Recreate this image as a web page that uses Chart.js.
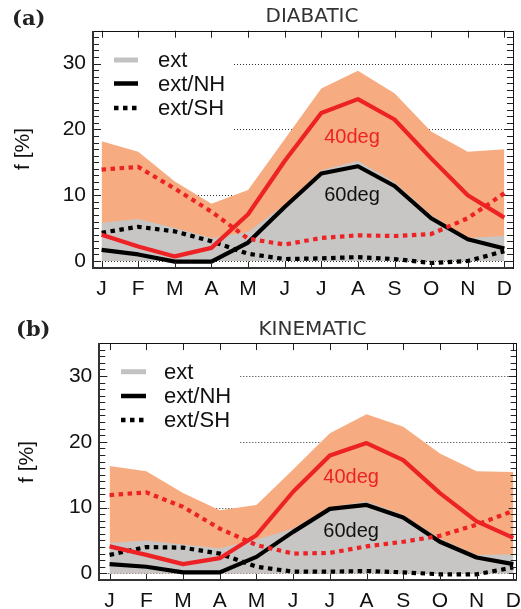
<!DOCTYPE html>
<html lang="en">
<head>
<meta charset="UTF-8">
<title>ext frequency - diabatic / kinematic</title>
<script src="https://cdn.jsdelivr.net/npm/chart.js"></script>
<style>
  html, body { margin: 0; padding: 0; background: #fff; overflow: hidden; }
  body { width: 521px; height: 609px; position: relative; }
  .panel { position: absolute; left: 0; }
  #panelA { top: 0; }
  #panelB { top: 310px; }
</style>
</head>
<body>
<div class="panel" id="panelA"><canvas id="chartA" width="521" height="300"></canvas></div>
<div class="panel" id="panelB"><canvas id="chartB" width="530" height="299"></canvas></div>
<script>
const months = ['J', 'F', 'M', 'A', 'M', 'J', 'J', 'A', 'S', 'O', 'N', 'D'];
const yTicks = [0, 10, 20, 30];
const legendLabels = ['ext', 'ext/NH', 'ext/SH'];

// (a) DIABATIC, f [%]
const diaExt40 = [18.2, 16.6, 12.1, 8.7, 10.8, 18.5, 26.2, 28.9, 25.5, 19.7, 16.6, 17.0];
const diaNH40  = [4.0, 2.2, 0.7, 2.0, 7.1, 15.2, 22.5, 24.6, 21.5, 15.6, 10.0, 6.6];
const diaSH40  = [13.9, 14.3, 11.0, 7.5, 3.4, 2.5, 3.5, 3.9, 3.8, 4.1, 6.5, 10.3];
const diaExt60 = [5.8, 6.4, 5.0, 3.5, 4.4, 8.6, 13.8, 15.2, 12.0, 7.0, 3.5, 3.8];
const diaNH60  = [1.7, 1.0, -0.1, -0.1, 2.8, 8.2, 13.3, 14.4, 11.4, 6.5, 3.3, 1.9];
const diaSH60  = [4.3, 5.2, 4.5, 3.0, 1.1, 0.3, 0.4, 0.6, 0.3, -0.3, 0.0, 1.5];

// (b) KINEMATIC, f [%]
const kinExt40 = [16.3, 15.5, 12.2, 9.6, 10.4, 15.8, 21.3, 24.2, 22.3, 18.2, 15.5, 15.4];
const kinNH40  = [4.1, 2.8, 1.4, 2.3, 5.8, 12.4, 17.9, 19.8, 17.2, 12.2, 7.9, 5.4];
const kinSH40  = [11.9, 12.3, 10.1, 6.8, 4.3, 3.0, 3.1, 4.1, 4.8, 5.7, 7.4, 9.5];
const kinExt60 = [4.6, 5.0, 4.4, 3.8, 5.1, 6.8, 10.1, 10.9, 8.9, 5.3, 2.8, 2.9];
const kinNH60  = [1.4, 1.0, 0.15, 0.15, 2.5, 6.3, 9.8, 10.4, 8.5, 4.8, 2.4, 1.4];
const kinSH60  = [2.8, 4.0, 3.9, 3.0, 1.0, 0.25, 0.25, 0.35, 0.15, -0.15, -0.15, 0.9];

const ORANGE = 'rgb(246,172,128)';
const GREY = 'rgb(199,198,197)';
const RED = 'rgb(237,34,36)';
const BLACK = '#000';
const SANS = '"Liberation Sans", Arial, sans-serif';

const pts = vals => vals.map((v, i) => ({ x: i, y: v }));

function bandSet(vals, color, order) {
  return {
    data: pts(vals), backgroundColor: color, borderColor: 'rgba(0,0,0,0)',
    borderWidth: 0, fill: 'origin', pointRadius: 0, order: order
  };
}

function curveSet(vals, color, dash, order) {
  return {
    data: pts(vals), borderColor: color, borderWidth: 4.2, borderDash: dash,
    borderCapStyle: 'butt', borderJoinStyle: 'round', fill: false,
    pointRadius: 0, order: order
  };
}

// frame, inward ticks, dotted grid, legend and labels
const decor = {
  id: 'decor',
  beforeDatasetsDraw(chart, args, o) {
    const { ctx, chartArea: a, scales: { y } } = chart;
    ctx.save();
    ctx.strokeStyle = '#333';
    ctx.lineWidth = 1;
    ctx.setLineDash([1, 2]);
    yTicks.forEach(v => {
      const py = Math.round(y.getPixelForValue(v)) + 0.5;
      ctx.beginPath();
      ctx.moveTo(a.left, py);
      ctx.lineTo(a.right, py);
      ctx.stroke();
    });
    ctx.setLineDash([]);
    ctx.fillStyle = '#fff';
    const b = o.legendBox;
    ctx.fillRect(b[0], b[1], b[2], b[3]);
    ctx.restore();
  },
  afterDatasetsDraw(chart, args, o) {
    const { ctx, chartArea: a, scales: { x, y } } = chart;
    ctx.save();

    // axis ticks
    ctx.strokeStyle = '#222';
    ctx.lineWidth = 1;
    ctx.beginPath();
    months.forEach((m, i) => {
      const px = Math.round(x.getPixelForValue(i)) + 0.5;
      ctx.moveTo(px, a.bottom); ctx.lineTo(px, a.bottom - 6);
      ctx.moveTo(px, a.top); ctx.lineTo(px, a.top + 7);
    });
    for (let v = -1; v <= 35; v++) {
      const py = Math.round(y.getPixelForValue(v)) + 0.5;
      const len = v % 10 === 0 ? 8 : 6;
      ctx.moveTo(a.left, py); ctx.lineTo(a.left + len, py);
      ctx.moveTo(a.right, py); ctx.lineTo(a.right - len, py);
    }
    ctx.stroke();

    // frame
    ctx.strokeStyle = '#111';
    ctx.lineWidth = 1;
    ctx.strokeRect(Math.round(a.left) + 0.5, Math.round(a.top) + 0.5,
      Math.round(a.right - a.left), Math.round(a.bottom - a.top));
    ctx.strokeStyle = '#333';
    ctx.lineWidth = 2;
    ctx.beginPath();
    ctx.moveTo(Math.round(a.left), Math.round(a.top));
    ctx.lineTo(Math.round(a.left), Math.round(a.bottom));
    ctx.lineTo(Math.round(a.right), Math.round(a.bottom));
    ctx.stroke();

    // legend
    const L = o.legend;
    const styles = [
      { color: '#c2c2c2', dash: [], width: 5 },
      { color: BLACK, dash: [], width: 4.5 },
      { color: BLACK, dash: [4.5, 4.5], width: 4.5 }
    ];
    ctx.font = '22px ' + SANS;
    ctx.textBaseline = 'middle';
    ctx.textAlign = 'left';
    legendLabels.forEach((lab, i) => {
      const st = styles[i];
      ctx.strokeStyle = st.color;
      ctx.lineWidth = st.width;
      ctx.setLineDash(st.dash);
      ctx.beginPath();
      ctx.moveTo(L.x1, L.rows[i]);
      ctx.lineTo(L.x2, L.rows[i]);
      ctx.stroke();
      ctx.fillStyle = '#111';
      ctx.fillText(lab, L.tx, L.rows[i] + 1);
    });
    ctx.setLineDash([]);

    // 40deg / 60deg labels placed in data units
    ctx.font = '20px ' + SANS;
    ctx.textAlign = 'center';
    o.notes.forEach(n => {
      ctx.fillStyle = n.color;
      ctx.fillText(n.text, x.getPixelForValue(n.x), y.getPixelForValue(n.y));
    });

    // panel title
    ctx.font = '20px "DejaVu Sans", sans-serif';
    ctx.fillStyle = '#333';
    ctx.fillText(o.title, o.titleX, o.titleY);

    // panel letter
    ctx.font = 'bold 21px "DejaVu Serif", serif';
    ctx.fillStyle = '#222';
    ctx.textAlign = 'left';
    ctx.fillText(o.letter, o.letterX, o.letterY);

    // y axis title
    ctx.font = '21px ' + SANS;
    ctx.fillStyle = '#111';
    ctx.translate(o.yTitleX, o.yTitleY);
    ctx.rotate(-Math.PI / 2);
    ctx.textAlign = 'center';
    ctx.fillText('f [%]', 0, 0);
    ctx.restore();
  }
};

function makePanel(id, series, box, deco) {
  const canvas = document.getElementById(id);
  const W = canvas.width, H = canvas.height;
  return new Chart(canvas, {
    type: 'line',
    data: {
      datasets: [
        bandSet(series.ext40, ORANGE, 20),
        bandSet(series.ext60, GREY, 19),
        curveSet(series.nh60, BLACK, [], 6),
        curveSet(series.sh60, BLACK, [4.5, 4.5], 5),
        curveSet(series.nh40, RED, [], 4),
        curveSet(series.sh40, RED, [4.5, 4.5], 3)
      ]
    },
    options: {
      responsive: false,
      animation: false,
      events: [],
      layout: { padding: { top: box.top, right: W - box.right, left: 0, bottom: 0 } },
      plugins: {
        legend: { display: false },
        tooltip: { enabled: false },
        decor: deco
      },
      scales: {
        x: {
          type: 'linear', min: box.xMin, max: box.xMax,
          afterBuildTicks: s => { s.ticks = months.map((m, i) => ({ value: i })); },
          afterFit: s => { s.height = H - box.bottom; },
          grid: { display: false, drawTicks: false },
          border: { display: false },
          ticks: {
            autoSkip: false, maxRotation: 0, padding: 9,
            color: '#111', font: { family: SANS, size: 21 },
            callback: v => months[v]
          }
        },
        y: {
          min: -1, max: 35,
          afterBuildTicks: s => { s.ticks = yTicks.map(v => ({ value: v })); },
          afterFit: s => { s.width = box.left; },
          grid: { display: false, drawTicks: false },
          border: { display: false },
          ticks: {
            padding: 7, color: '#111', font: { family: SANS, size: 21 }
          }
        }
      }
    },
    plugins: [decor]
  });
}

makePanel('chartA',
  { ext40: diaExt40, nh40: diaNH40, sh40: diaSH40, ext60: diaExt60, nh60: diaNH60, sh60: diaSH60 },
  { left: 93, right: 518, top: 30.7, bottom: 267.6, xMin: -0.235, xMax: 11.235 },
  {
    legendBox: [98, 42, 136, 97],
    legend: { x1: 114, x2: 138, tx: 158, rows: [60, 83.5, 108] },
    notes: [
      { text: '40deg', x: 6.84, y: 18.7, color: RED },
      { text: '60deg', x: 6.84, y: 10.0, color: '#111' }
    ],
    title: 'DIABATIC', titleX: 312, titleY: 17,
    letter: '(a)', letterX: 12, letterY: 20,
    yTitleX: 23, yTitleY: 149
  });

makePanel('chartB',
  { ext40: kinExt40, nh40: kinNH40, sh40: kinSH40, ext60: kinExt60, nh60: kinNH60, sh60: kinSH60 },
  { left: 99.3, right: 520, top: 33.1, bottom: 269.9, xMin: -0.281, xMax: 11.09 },
  {
    legendBox: [104, 44, 136, 97],
    legend: { x1: 121, x2: 146, tx: 164, rows: [61.7, 86, 110] },
    notes: [
      { text: '40deg', x: 6.58, y: 14.6, color: RED },
      { text: '60deg', x: 6.58, y: 6.3, color: '#111' }
    ],
    title: 'KINEMATIC', titleX: 312.5, titleY: 19.5,
    letter: '(b)', letterX: 16, letterY: 21,
    yTitleX: 27, yTitleY: 152
  });
</script>
</body>
</html>
